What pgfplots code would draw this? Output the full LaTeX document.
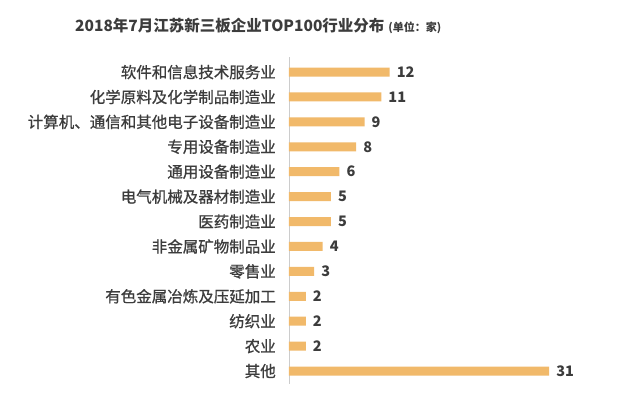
\documentclass[border=0pt]{standalone}
\usepackage{pgfplots}
\pgfplotsset{compat=1.18}
\usepackage{fontspec}
\setmainfont{Noto Sans CJK SC}
\newfontfamily\labfont[RawFeature={embolden=0.8}]{Noto Sans CJK SC}
\definecolor{barc}{HTML}{F1B96A}
\definecolor{txt}{HTML}{3C3C3C}
\begin{document}
\begin{tikzpicture}[x=1pt,y=1pt]
\path[use as bounding box, fill=white] (0,0) rectangle (640,399);
\node[anchor=west, text=txt, inner sep=0pt] at (75,373) {\bfseries\fontsize{15.5}{16}\selectfont 2018年7月江苏新三板企业TOP100行业分布\hspace{4pt}{\fontsize{11}{12}\selectfont (单位：家)}};
\begin{axis}[
  at={(289pt,15.5pt)}, anchor=south west,
  scale only axis, width=335.6pt, height=326.4pt,
  xmin=0, xmax=40, ymin=-0.6, ymax=12.5, y dir=reverse,
  xbar, bar width=9pt,
  axis x line=none, axis y line*=left,
  y axis line style={draw=black!20, line width=0.8pt},
  major tick length=0pt,
  /pgf/number format/assume math mode=true,
  ytick={0,...,12},
  yticklabels={软件和信息技术服务业,化学原料及化学制品制造业,计算机、通信和其他电子设备制造业,专用设备制造业,通用设备制造业,电气机械及器材制造业,医药制造业,非金属矿物制品业,零售业,有色金属冶炼及压延加工,纺织业,农业,其他},
  yticklabel style={font=\labfont\fontsize{15.5}{16}\selectfont, text=txt, inner sep=0pt, xshift=-13pt},
  nodes near coords,
  nodes near coords style={font=\bfseries\fontsize{14.5}{15}\selectfont, text=txt, anchor=west, inner sep=0pt, xshift=7pt},
  clip=false,
]
\addplot[draw=none, fill=barc] coordinates {(12,0) (11,1) (9,2) (8,3) (6,4) (5,5) (5,6) (4,7) (3,8) (2,9) (2,10) (2,11) (31,12)};
\end{axis}
\end{tikzpicture}
\end{document}
